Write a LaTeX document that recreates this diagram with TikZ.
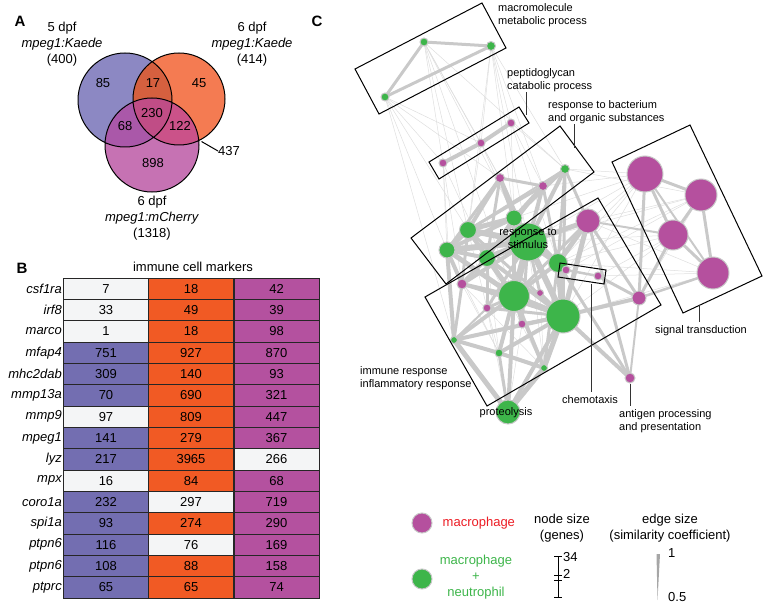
\documentclass[tikz,border=0pt]{standalone}
\usepackage{fontspec}
\setmainfont{Liberation Sans}
\usetikzlibrary{positioning}
\pgfdeclarelayer{background}
\pgfsetlayers{background,main}

\definecolor{vblue}{HTML}{8C88C3}
\definecolor{vorange}{HTML}{F47B52}
\definecolor{vpink}{HTML}{C672B3}
\definecolor{vab}{HTML}{D5603F}
\definecolor{vac}{HTML}{AA58A9}
\definecolor{vbc}{HTML}{CB5289}
\definecolor{vabc}{HTML}{C04D86}
\definecolor{cw}{HTML}{F4F5F6}
\definecolor{cb}{HTML}{736EB1}
\definecolor{co}{HTML}{F15A24}
\definecolor{cm}{HTML}{B4519F}
\definecolor{macro}{HTML}{B5509E}
\definecolor{neutro}{HTML}{3DB54A}
\definecolor{legred}{HTML}{EC1C24}

\def\vA{(125,100) circle[radius=47]}
\def\vB{(179,99) circle[radius=46]}
\def\vC{(152,145) circle[radius=47]}

\begin{document}
\begin{tikzpicture}[x=1pt, y=-1pt, every node/.style={inner sep=0pt, font=\fontsize{13}{16}\selectfont},
    cell/.style={draw=black!85, line width=.7pt, minimum width=85pt, minimum height=21.33pt},
    small/.style={font=\fontsize{11}{13}\selectfont},
    panel/.style={font=\fontsize{15}{18}\selectfont\bfseries},
    mac/.style={circle, draw=black!22, line width=1pt, fill=macro},
    neu/.style={circle, draw=black!22, line width=1pt, fill=neutro},
    edge/.style={draw=black!21},
    thinedge/.style={draw=black!13, line width=.5pt},
    box/.style={draw=black, line width=1pt},
    lead/.style={draw=black!80, line width=1pt}]
    \useasboundingbox (0,0) rectangle (765,604);

    % A: venn
    \fill[vblue] \vA;
    \fill[vorange] \vB;
    \fill[vpink] \vC;
    \begin{scope}
        \clip \vA;
        \fill[vab] \vB;
        \fill[vac] \vC;
    \end{scope}
    \begin{scope}
        \clip \vB;
        \fill[vbc] \vC;
    \end{scope}
    \begin{scope}
        \clip \vA;
        \clip \vB;
        \fill[vabc] \vC;
    \end{scope}
    \draw[line width=1pt] \vA \vB \vC;

    \node[panel] (pa) at (20,21) {A};
    \node[align=center] (k5) at (62,44) {5 dpf\\\textit{mpeg1:Kaede}\\(400)};
    \node[align=center] (k6) at (252,44) {6 dpf\\\textit{mpeg1:Kaede}\\(414)};
    \node[align=center] (ch6) at (152,218) {6 dpf\\\textit{mpeg1:mCherry}\\(1318)};
    \node (n85) at (103,83) {85};
    \node (n17) at (153,83) {17};
    \node (n45) at (199,83) {45};
    \node (n230) at (152,113) {230};
    \node (n68) at (125,126) {68};
    \node (n122) at (180,126) {122};
    \node (n898) at (153,163) {898};
    \node[anchor=west] (n437) at (218,151) {437};
    \coordinate (c437) at (201.5,141.5);
    \draw[line width=1pt] (c437) -- (n437.west);

    % B: table
    \node[panel] (pb) at (22,268) {B};
    \node (title) at (193,267) {immune cell markers};
    \foreach \g/\a/\ca/\b/\cb/\c/\cc [count=\i] in {
        csf1ra/7/cw/18/co/42/cm,
        irf8/33/cw/49/co/39/cm,
        marco/1/cw/18/co/98/cm,
        mfap4/751/cb/927/co/870/cm,
        mhc2dab/309/cb/140/co/93/cm,
        mmp13a/70/cb/690/co/321/cm,
        mmp9/97/cw/809/co/447/cm,
        mpeg1/141/cb/279/co/367/cm,
        lyz/217/cb/3965/co/266/cw,
        mpx/16/cw/84/co/68/cm,
        coro1a/232/cb/297/cw/719/cm,
        spi1a/93/cb/274/co/290/cm,
        ptpn6/116/cb/76/cw/169/cm,
        ptpn6/108/cb/88/co/158/cm,
        ptprc/65/cb/65/co/74/cm}
    {
        \pgfmathsetmacro\ry{278+21.33*(\i-0.5)}
        \node[anchor=east, font=\fontsize{13}{16}\selectfont\itshape] (g\i) at (62,\ry) {\g};
        \node[cell, fill=\ca] (a\i) at (106,\ry) {\a};
        \node[cell, fill=\cb] (b\i) at (191,\ry) {\b};
        \node[cell, fill=\cc] (d\i) at (276.5,\ry) {\c};
    }

    % C: network
    \node[panel] (pc) at (317,21) {C};
    \foreach \n/\x/\y/\r/\s in {
        mm1/424/42/4/neu, mm2/491/46/4.5/neu, mm3/385/97/4/neu,
        pg1/511/123/4/mac, pg2/481/143/4/mac, pg3/443/163/4/mac,
        rb1/565/169/4.5/neu, rb2/500/178/4.5/mac, rb3/543/186/4.5/mac,
        rb4/514/218/8/neu, rb5/468/230/8.5/neu, rb6/447/250/8/neu, rb7/487/258/8.5/neu,
        rs/528/242/19/neu,
        ir1/588/221/12/mac, ir2/558/263/9.5/neu, ir3/462/284/5/mac, ir4/514/296/15.5/neu,
        ir5/540/293/3.5/mac, ir6/487/308/4/mac, ir7/563/316/17/neu, ir8/522/324/4/mac,
        ir9/454/340/3.5/neu, ir10/499/353/4/neu, ir11/544/368/3.5/neu,
        ch1/566/270/4/mac, ch2/598/276/4/mac,
        m7/639/298/7/mac, ag/630/378/5/mac, pr/508/412/12/neu,
        st1/645/174/18/mac, st2/701/195/16/mac, st3/673/235/15/mac, st4/713/273/16/mac}
        \node[\s, minimum size=2*\r] (\n) at (\x,\y) {};

    \begin{pgfonlayer}{background}
        \foreach \p/\q in {mm3/pg3, mm3/rb6, mm3/rb5, mm3/ir9, mm3/rb2, mm3/pg2,
            mm1/pg3, mm1/pg2, mm1/rb5, mm1/rb2, mm1/rs, mm1/rb1, mm1/ir4,
            mm2/pg2, mm2/pg1, mm2/rb1, mm2/rb3, mm2/rs, mm2/rb5, mm2/rb4,
            pg1/rb1, pg1/rb4, pg1/rb3, pg1/ir2, pg2/rb2, pg2/rb5, pg2/rb4,
            pg3/rb6, pg3/ir3, pg3/ir9, pg3/rb7,
            st1/rb1, st1/rb3, st1/ir1, st1/ir2, st1/rs, st2/ir1, st2/rb1, st2/ir2,
            st3/ir2, st3/ir7, st3/ch2, st4/ir7, st4/ch2, st4/ir2, st2/ch1, st1/ch1,
            st2/rs, st1/ir7, st3/rs, st4/ir1, st2/m7, st1/rb4,
            ir9/ir11, ir6/ir10, ir3/ir11, rb7/ir10, ir5/ir11, ir8/pr, ir6/pr, ir3/ir10,
            rb6/ir10, rb5/ir6, rb7/ir11, rs/ir10, rs/ir11}
            \draw[thinedge] (\p.center) -- (\q.center);
        \foreach \p/\q/\w in {rb2/rb4/4, rb2/rs/4, rb2/rb5/4, rb2/rb3/3, rb3/rs/4, rb3/rb4/4,
            rb2/rb6/3, rb2/rb7/3, rb3/rb5/3, rb3/ir2/3, rb3/rb7/2, rb1/rb5/2,
            rb1/rb4/3, rb1/rs/4, rb1/rb3/3, rb1/ir1/3, rb1/ir2/3, rb1/ir7/3,
            rb4/rs/7, rb5/rs/6, rb6/rs/6, rb6/rb5/5, rb7/rs/6, rb6/rb7/4, rb5/rb7/4,
            rb4/rb5/5, rb4/rb6/4, rb4/rb7/4, rb5/ir4/4, rb4/ir4/4, rb4/ir2/4, rb4/ir7/3,
            rs/ir4/7, rs/ir7/6, rs/ir2/6, rs/ir1/5, rs/ir3/4, rb6/ir4/5, rb6/ir9/4, rb6/ir3/4,
            rs/ir6/3, rs/ir5/3, rs/ir8/3, rb5/ir3/3, rb5/ir7/3, rb7/ir7/4, rb7/ir6/3,
            ir1/ir2/5, ir1/ir7/5, ir1/m7/3, ir2/ir7/6, ir2/ch1/2, ir4/ir7/6, ir3/ir4/4,
            ir4/ir9/4, ir4/ir10/4, ir4/ir11/4, ir7/ir10/4, ir7/ir11/5, ir7/ag/4, ir7/m7/4,
            ir2/ag/3, ir9/ir10/4, ir9/ir7/4, ir9/pr/5, ir10/pr/3, ir11/pr/5, ir4/pr/4,
            ir6/ir4/3, ir8/ir7/3, ir5/ir7/3, ir7/pr/4, rb7/ir4/5, rb7/ir3/4, ch1/ch2/2.5,
            ir2/ir4/4, ir3/ir7/3, ir3/ir9/3, ir6/ir7/3, ir8/ir4/3, ir1/ir4/3, ir2/ir11/3,
            ch2/m7/3, ir1/ag/3, m7/ag/2, ir9/ir6/2, ir10/ir11/4,
            mm1/mm2/3, mm1/mm3/3, mm3/mm2/3, pg1/pg2/4, pg2/pg3/4,
            st1/st2/3, st1/st3/3, st2/st3/3, st2/st4/3, st3/st4/3, st1/st4/2,
            st1/m7/3, st3/m7/3, st4/m7/2.5, st3/ir1/2}
            \draw[edge, line width=\w] (\p.center) -- (\q.center);
    \end{pgfonlayer}

    \draw[box] (355,69) -- (482,3) -- (506,48) -- (379,114) -- cycle;
    \draw[box] (429,162) -- (519,107) -- (529,123) -- (439,179) -- cycle;
    \draw[box] (411,238) -- (560,126) -- (594,172) -- (446,284) -- cycle;
    \draw[box] (425,297) -- (598,198) -- (661,305) -- (487,406) -- cycle;
    \draw[box] (560,263) -- (606,270) -- (604,284) -- (558,277) -- cycle;
    \draw[box] (612,162) -- (690,125) -- (762,276) -- (683,313) -- cycle;

    \node[small, anchor=west, align=left] (lmm) at (498,15.5) {macromolecule\\metabolic process};
    \node[small, anchor=west, align=left] (lpg) at (507,80) {peptidoglycan\\catabolic process};
    \node[small, anchor=west, align=left] (lrb) at (548,112.5) {response to bacterium\\and organic substances};
    \node[small, align=center] (lrs) at (528,238.5) {response to\\stimulus};
    \node[small, anchor=west, align=left] (lir) at (360,378.5) {immune response\\inflammatory response};
    \node[small] (lpr) at (506,413) {proteolysis};
    \node[small] (lch) at (590,400) {chemotaxis};
    \node[small, anchor=west, align=left] (lag) at (619,421) {antigen processing\\and presentation};
    \node[small] (lst) at (701,331) {signal transduction};

    \coordinate (tpg) at (526,115);
    \coordinate (trb) at (574,148);
    \coordinate (tch) at (591,284);
    \coordinate (tst) at (699,305);
    \draw[lead] (tpg) -- (tpg |- lpg.south);
    \draw[lead] (trb) -- (trb |- lrb.south);
    \draw[lead] (tch) -- ([yshift=4pt]tch |- lch.north);
    \draw[lead] (tst) -- ([yshift=4pt]tst |- lst.north);
    \draw[lead] (ag) -- ([yshift=3pt]ag |- lag.north);

    % legend
    \node[mac, minimum size=20] (kmac) at (422,523) {};
    \node[right=10pt of kmac, text=legred] (tmac) {macrophage};
    \node[neu, minimum size=20] (kneu) at (422,579) {};
    \node[text=neutro, align=center] (tneu) at (476,577.5) {macrophage\\+\\neutrophil};
    \node[align=center] (tnode) at (562,528) {node size\\(genes)};
    \node[align=center] (tedge) at (670,528) {edge size\\(similarity coefficient)};

    \coordinate (nb1) at (558,556);
    \coordinate (nb2) at (558,575);
    \coordinate (nb3) at (558,580);
    \coordinate (nb4) at (558,597);
    \draw[line width=1pt] (nb1) -- (nb4);
    \foreach \c in {nb1,nb2,nb3,nb4}
        \draw[line width=1pt] ([xshift=-4pt]\c) -- ([xshift=4pt]\c);
    \node[anchor=west] (s34) at (563,557) {34};
    \node[anchor=west] (s2) at (563,574) {2};

    \fill[black!35] (656.5,554) -- (660,554) -- (657.5,600) -- cycle;
    \node[anchor=west] (e1) at (668,553) {1};
    \node[anchor=west] (e05) at (668,597) {0.5};
\end{tikzpicture}
\end{document}
